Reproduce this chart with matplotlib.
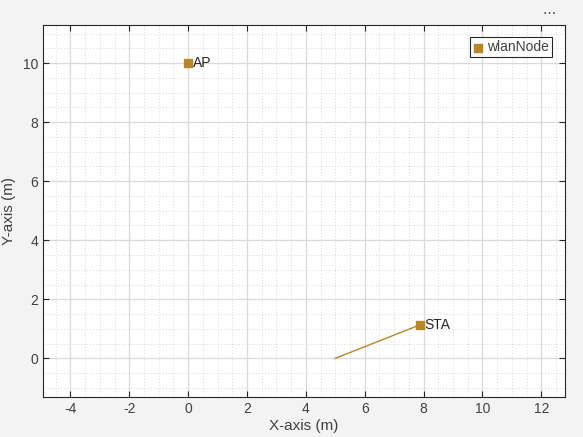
import matplotlib
matplotlib.use("Agg")
import matplotlib.pyplot as plt
from matplotlib.ticker import MultipleLocator

plt.rcParams['font.family'] = ['Liberation Sans', 'DejaVu Sans']
plt.rcParams['axes.unicode_minus'] = False

# node positions (m)
node_names = ['AP', 'STA']
node_x = [0.0, 7.87]
node_y = [10.0, 1.13]

# STA movement track
track_x = [5.0, 7.87]
track_y = [0.0, 1.13]

node_color = '#B5862A'
text_color = '#404040'

fig = plt.figure(figsize=(5.83, 4.37), dpi=100, facecolor='#F3F3F3')
ax = fig.add_axes([0.0738, 0.0915, 0.895, 0.852])
ax.set_facecolor('white')

ax.plot(track_x, track_y, color=node_color, lw=1.0)
ax.scatter(node_x, node_y, marker='s', s=30, color=node_color, zorder=3,
           label='wlanNode')
for name, x, y in zip(node_names, node_x, node_y):
    ax.text(x + 0.15, y, name, fontsize=10, color='#262626', va='center',
            ha='left')

ax.set_xlim(-4.93, 12.8)
ax.set_ylim(-1.31, 11.3)
ax.xaxis.set_major_locator(MultipleLocator(2))
ax.yaxis.set_major_locator(MultipleLocator(2))
ax.xaxis.set_minor_locator(MultipleLocator(0.5))
ax.yaxis.set_minor_locator(MultipleLocator(0.5))
ax.grid(which='major', color='#DADADA', lw=0.9)
ax.grid(which='minor', color='#CCCCCC', lw=0.6, ls=(0, (1, 2.5)))
ax.set_axisbelow(True)

ax.tick_params(which='major', direction='in', length=4, top=True, right=True,
               labelsize=10, colors='#262626', labelcolor=text_color)
ax.tick_params(which='minor', length=0)
for sp in ax.spines.values():
    sp.set_color('#262626')
    sp.set_linewidth(0.8)

ax.set_xlabel('X-axis (m)', fontsize=11, color=text_color, labelpad=2)
ax.set_ylabel('Y-axis (m)', fontsize=11, color=text_color, labelpad=5)

leg = ax.legend(loc='upper right', fontsize=10, frameon=True, fancybox=False,
                handlelength=0.6, handletextpad=0.4, borderpad=0.22,
                markerscale=0.95, borderaxespad=0.9, framealpha=1)
leg.get_frame().set_edgecolor('#262626')
leg.get_frame().set_linewidth(0.8)
for t in leg.get_texts():
    t.set_color(text_color)

fig.text(0.943, 0.97, '• • •', fontsize=5, color='#555555', ha='center',
         va='center')

fig.savefig('out.png', dpi=100, facecolor=fig.get_facecolor())
